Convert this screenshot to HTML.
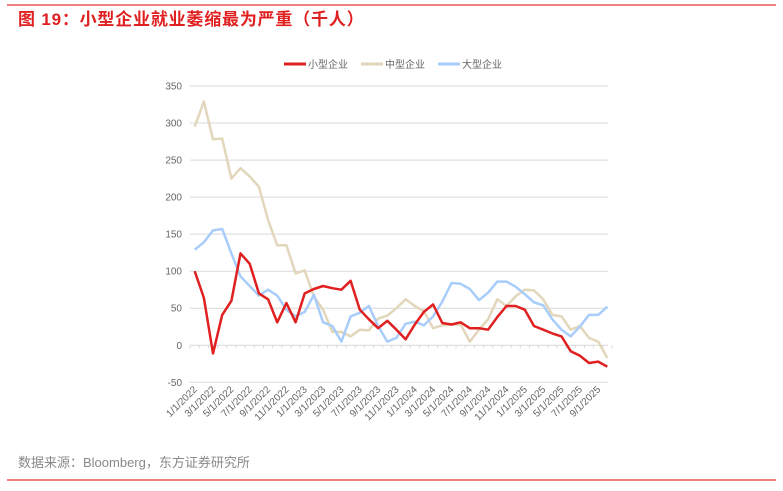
<!DOCTYPE html>
<html><head><meta charset="utf-8">
<style>
body{margin:0;background:#fff;width:783px;height:486px;overflow:hidden;font-family:"Liberation Sans","Noto Sans CJK SC",sans-serif;}
</style></head>
<body>
<svg width="783" height="486" xmlns="http://www.w3.org/2000/svg" style="font-family:'Liberation Sans','Noto Sans CJK SC',sans-serif">
<line x1="7" y1="5" x2="776" y2="5" stroke="#f08080" stroke-width="2"/>
<text x="18" y="25" font-size="17" font-weight="bold" fill="#e02020" letter-spacing="0.8">图 19：小型企业就业萎缩最为严重（千人）</text>
<g id="legend">
<line x1="284" y1="64" x2="306" y2="64" stroke="#e02020" stroke-width="3"/>
<text x="308" y="68" font-size="10" fill="#666">小型企业</text>
<line x1="361" y1="64" x2="383" y2="64" stroke="#e2d6bb" stroke-width="3"/>
<text x="385" y="68" font-size="10" fill="#666">中型企业</text>
<line x1="438" y1="64" x2="460" y2="64" stroke="#a8cdfb" stroke-width="3"/>
<text x="462" y="68" font-size="10" fill="#666">大型企业</text>
</g>
<g id="grid"></g>
<g id="xlabels"></g>
<g id="series"></g>
<text x="18" y="467" font-size="13" fill="#888">数据来源：Bloomberg，东方证券研究所</text>
<line x1="7" y1="480" x2="776" y2="480" stroke="#f08080" stroke-width="2"/>
</svg>
<script>
const yTicks=[350,300,250,200,150,100,50,0,-50];
const xLabels=["1/1/2022","3/1/2022","5/1/2022","7/1/2022","9/1/2022","11/1/2022","1/1/2023","3/1/2023","5/1/2023","7/1/2023","9/1/2023","11/1/2023","1/1/2024","3/1/2024","5/1/2024","7/1/2024","9/1/2024","11/1/2024","1/1/2025","3/1/2025","5/1/2025","7/1/2025","9/1/2025"];
const smallCo=[100,64,-11,41,60,124,110,70,62,31,57,31,70,76,80,77,75,87,48,35,23,33,21,8,28,45,55,30,28,31,23,23,21,38,53,53,48,26,21,16,12,-8,-14,-24,-22,-29];
const mediumCo=[295,329,278,279,225,239,228,214,169,135,135,97,101,66,48,18,18,12,21,20,36,40,50,62,53,46,23,27,28,28,5,21,35,62,53,66,75,74,62,41,39,21,26,10,5,-17];
const largeCo=[129,139,155,157,124,93,80,67,75,67,48,39,45,68,31,26,5,39,44,53,26,5,10,29,32,27,39,59,84,83,76,61,71,86,86,79,69,58,54,35,21,12,25,41,41,52];
const NS="http://www.w3.org/2000/svg";
const x0=194.7, step=9.17, yMin=-50, yMax=350, plotTop=86, plotBot=382.3;
function xs(i){return x0+i*step;}
function ys(v){return plotBot-(v-yMin)/(yMax-yMin)*(plotBot-plotTop);}
const grid=document.getElementById('grid');
yTicks.forEach(t=>{
  const l=document.createElementNS(NS,'line');
  l.setAttribute('x1',190);l.setAttribute('x2',608);
  l.setAttribute('y1',ys(t));l.setAttribute('y2',ys(t));
  l.setAttribute('stroke','#d9d9d9');l.setAttribute('stroke-width','1');
  
  
  grid.appendChild(l);
  const tx=document.createElementNS(NS,'text');
  tx.setAttribute('x',182);tx.setAttribute('y',ys(t)+3.5);
  tx.setAttribute('text-anchor','end');tx.setAttribute('font-size','10');tx.setAttribute('fill','#666');
  tx.textContent=t;
  
  
  grid.appendChild(tx);
});
const n=smallCo.length;
for(let i=0;i<=n;i++){
  const l=document.createElementNS(NS,'line');
  const xx=x0-step/2+i*step;
  l.setAttribute('x1',xx);l.setAttribute('x2',xx);l.setAttribute('y1',ys(0));l.setAttribute('y2',ys(0)+3);
  l.setAttribute('stroke','#d9d9d9');
  
  
  grid.appendChild(l);
}
const xl=document.getElementById('xlabels');
xLabels.forEach((s,k)=>{
  const i=k*2, xx=xs(i)+3, yy=390;
  const tx=document.createElementNS(NS,'text');
  tx.setAttribute('x',xx);tx.setAttribute('y',yy);
  tx.setAttribute('text-anchor','end');tx.setAttribute('font-size','10');tx.setAttribute('fill','#666');
  tx.setAttribute('transform','rotate(-45 '+xx+' '+yy+')');
  tx.textContent=s;
  
  
  xl.appendChild(tx);
});
const sg=document.getElementById('series');
[[mediumCo,'#e2d6bb','series-medium'],[largeCo,'#a8cdfb','series-large'],[smallCo,'#e02020','series-small']].forEach(([d,c,nm])=>{
  const p=document.createElementNS(NS,'polyline');
  p.setAttribute('points',d.map((v,i)=>xs(i).toFixed(1)+','+ys(v).toFixed(1)).join(' '));
  p.setAttribute('fill','none');p.setAttribute('stroke',c);p.setAttribute('stroke-width','2.5');p.setAttribute('stroke-linejoin','round');
  
  
  sg.appendChild(p);
});
</script>
</body></html>
